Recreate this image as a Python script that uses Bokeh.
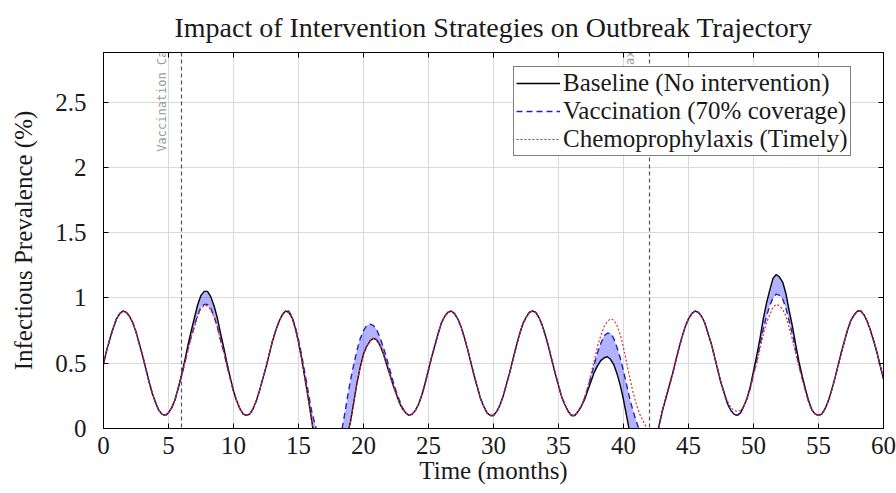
import numpy as np
from bokeh.plotting import figure
from bokeh.models import (Range1d, FixedTicker, LinearAxis, Span,
                          CustomJSTickFormatter)
from bokeh.core.properties import value
from bokeh.embed import file_html
from bokeh.resources import INLINE

# ---------------- data (one reading every 0.25 month) ----
months = np.arange(0, 60.001, 0.25)

baseline = [
    0.50, 0.60, 0.69, 0.77, 0.84, 0.88, 0.90, 0.89, 0.86, 0.81, 0.74, 0.65, 0.56, 0.46, 0.36, 0.27, 0.20, 0.14, 0.11, 0.10,
    0.12, 0.16, 0.22, 0.31, 0.41, 0.52, 0.64, 0.75, 0.85, 0.95, 1.02, 1.05, 1.05, 1.01, 0.94, 0.85, 0.73, 0.62, 0.50, 0.39,
    0.29, 0.21, 0.15, 0.11, 0.10, 0.11, 0.15, 0.21, 0.29, 0.38, 0.47, 0.57, 0.67, 0.75, 0.82, 0.87, 0.90, 0.89, 0.85, 0.77,
    0.66, 0.53, 0.38, 0.23, 0.07, -0.09, -0.25, -0.39, -0.50, -0.54, -0.55, -0.50, -0.40, -0.28, -0.15, -0.05, 0.05, 0.20, 0.35, 0.47,
    0.57, 0.63, 0.67, 0.69, 0.68, 0.64, 0.58, 0.50, 0.42, 0.34, 0.27, 0.20, 0.15, 0.12, 0.10, 0.11, 0.14, 0.19, 0.26, 0.35,
    0.45, 0.55, 0.64, 0.73, 0.81, 0.86, 0.89, 0.90, 0.88, 0.84, 0.78, 0.70, 0.61, 0.51, 0.41, 0.32, 0.23, 0.17, 0.12, 0.10,
    0.10, 0.13, 0.18, 0.25, 0.34, 0.43, 0.53, 0.63, 0.72, 0.80, 0.85, 0.89, 0.90, 0.89, 0.85, 0.79, 0.71, 0.62, 0.52, 0.42,
    0.33, 0.24, 0.18, 0.13, 0.10, 0.10, 0.13, 0.17, 0.22, 0.29, 0.36, 0.43, 0.48, 0.52, 0.54, 0.55, 0.53, 0.49, 0.42, 0.33,
    0.22, 0.09, -0.04, -0.17, -0.30, -0.42, -0.50, -0.52, -0.50, -0.32, -0.10, 0.03, 0.14, 0.23, 0.32, 0.41, 0.51, 0.61, 0.70, 0.78,
    0.84, 0.88, 0.90, 0.89, 0.86, 0.81, 0.73, 0.65, 0.55, 0.45, 0.35, 0.27, 0.19, 0.14, 0.11, 0.10, 0.12, 0.17, 0.23, 0.32,
    0.44, 0.56, 0.69, 0.84, 0.96, 1.06, 1.15, 1.18, 1.16, 1.12, 1.03, 0.90, 0.78, 0.64, 0.51, 0.40, 0.30, 0.21, 0.14, 0.11,
    0.10, 0.11, 0.15, 0.21, 0.29, 0.38, 0.48, 0.58, 0.67, 0.76, 0.83, 0.87, 0.90, 0.90, 0.87, 0.82, 0.75, 0.67, 0.58, 0.48,
    0.38,
]

vaccination = [
    0.50, 0.60, 0.69, 0.77, 0.84, 0.88, 0.90, 0.89, 0.86, 0.81, 0.74, 0.65, 0.56, 0.46, 0.36, 0.27, 0.20, 0.14, 0.11, 0.10,
    0.12, 0.16, 0.22, 0.31, 0.40, 0.50, 0.61, 0.70, 0.79, 0.87, 0.93, 0.95, 0.95, 0.92, 0.86, 0.78, 0.68, 0.59, 0.48, 0.38,
    0.28, 0.21, 0.15, 0.11, 0.10, 0.11, 0.15, 0.21, 0.29, 0.38, 0.47, 0.57, 0.67, 0.75, 0.82, 0.87, 0.90, 0.90, 0.86, 0.78,
    0.68, 0.56, 0.42, 0.28, 0.14, 0.04, -0.05, -0.18, -0.30, -0.35, -0.35, -0.30, -0.20, -0.06, 0.08, 0.23, 0.37, 0.49, 0.60, 0.69,
    0.75, 0.79, 0.80, 0.79, 0.76, 0.70, 0.63, 0.55, 0.46, 0.37, 0.29, 0.22, 0.16, 0.12, 0.10, 0.11, 0.14, 0.19, 0.26, 0.35,
    0.45, 0.55, 0.64, 0.73, 0.81, 0.86, 0.89, 0.90, 0.88, 0.84, 0.78, 0.70, 0.61, 0.51, 0.41, 0.32, 0.23, 0.17, 0.12, 0.10,
    0.10, 0.13, 0.18, 0.25, 0.34, 0.43, 0.53, 0.63, 0.72, 0.80, 0.85, 0.89, 0.90, 0.89, 0.85, 0.79, 0.71, 0.62, 0.52, 0.42,
    0.33, 0.24, 0.18, 0.13, 0.10, 0.10, 0.13, 0.17, 0.23, 0.31, 0.40, 0.49, 0.58, 0.65, 0.71, 0.73, 0.73, 0.69, 0.62, 0.54,
    0.44, 0.33, 0.22, 0.13, 0.05, -0.02, -0.10, -0.16, -0.20, -0.16, -0.08, 0.03, 0.14, 0.23, 0.32, 0.41, 0.51, 0.61, 0.70, 0.78,
    0.84, 0.88, 0.90, 0.89, 0.86, 0.81, 0.73, 0.65, 0.55, 0.45, 0.35, 0.27, 0.19, 0.14, 0.11, 0.10, 0.12, 0.17, 0.23, 0.31,
    0.42, 0.52, 0.64, 0.76, 0.86, 0.94, 1.00, 1.03, 1.02, 0.99, 0.92, 0.82, 0.72, 0.60, 0.48, 0.38, 0.29, 0.20, 0.14, 0.11,
    0.10, 0.11, 0.15, 0.21, 0.29, 0.38, 0.48, 0.58, 0.67, 0.76, 0.83, 0.87, 0.90, 0.90, 0.87, 0.82, 0.75, 0.67, 0.58, 0.48,
    0.38,
]

chemoprophylaxis = [
    0.50, 0.60, 0.69, 0.77, 0.84, 0.88, 0.90, 0.89, 0.86, 0.81, 0.74, 0.65, 0.56, 0.46, 0.36, 0.27, 0.20, 0.14, 0.11, 0.10,
    0.12, 0.16, 0.22, 0.31, 0.40, 0.50, 0.60, 0.70, 0.78, 0.86, 0.92, 0.94, 0.94, 0.91, 0.85, 0.78, 0.67, 0.59, 0.47, 0.38,
    0.28, 0.21, 0.15, 0.11, 0.10, 0.11, 0.15, 0.21, 0.29, 0.38, 0.47, 0.57, 0.67, 0.75, 0.82, 0.87, 0.90, 0.89, 0.85, 0.77,
    0.66, 0.53, 0.38, 0.23, 0.07, -0.09, -0.25, -0.39, -0.50, -0.54, -0.55, -0.50, -0.40, -0.28, -0.15, -0.05, 0.05, 0.20, 0.35, 0.47,
    0.57, 0.63, 0.67, 0.69, 0.68, 0.64, 0.58, 0.50, 0.42, 0.34, 0.27, 0.20, 0.15, 0.12, 0.10, 0.11, 0.14, 0.19, 0.26, 0.35,
    0.45, 0.55, 0.64, 0.73, 0.81, 0.86, 0.89, 0.90, 0.88, 0.84, 0.78, 0.70, 0.61, 0.51, 0.41, 0.32, 0.23, 0.17, 0.12, 0.10,
    0.10, 0.13, 0.18, 0.25, 0.34, 0.43, 0.53, 0.63, 0.72, 0.80, 0.85, 0.89, 0.90, 0.89, 0.85, 0.79, 0.71, 0.62, 0.52, 0.42,
    0.33, 0.24, 0.18, 0.13, 0.10, 0.10, 0.13, 0.17, 0.24, 0.32, 0.42, 0.52, 0.63, 0.71, 0.78, 0.82, 0.84, 0.83, 0.79, 0.72,
    0.62, 0.50, 0.38, 0.27, 0.18, 0.11, 0.06, 0.01, -0.04, -0.08, -0.10, 0.03, 0.14, 0.23, 0.32, 0.41, 0.51, 0.61, 0.70, 0.78,
    0.84, 0.88, 0.90, 0.89, 0.86, 0.81, 0.73, 0.65, 0.55, 0.45, 0.35, 0.27, 0.21, 0.16, 0.14, 0.13, 0.14, 0.17, 0.23, 0.30,
    0.41, 0.50, 0.61, 0.72, 0.81, 0.87, 0.93, 0.95, 0.94, 0.91, 0.86, 0.77, 0.68, 0.57, 0.47, 0.38, 0.28, 0.20, 0.14, 0.11,
    0.10, 0.11, 0.15, 0.21, 0.29, 0.38, 0.48, 0.58, 0.67, 0.76, 0.83, 0.87, 0.90, 0.90, 0.87, 0.82, 0.75, 0.67, 0.58, 0.48,
    0.38,
]

event_months = [6, 42]
event_labels = ["Vaccination Campaign", "Chemoprophylaxis Start"]
event_label_y = [2.12, 2.12]

x_ticks = [0, 5, 10, 15, 20, 25, 30, 35, 40, 45, 50, 55, 60]
y_ticks = [0, 0.5, 1, 1.5, 2, 2.5]

title_text = "Impact of Intervention Strategies on Outbreak Trajectory"
x_label = "Time (months)"
y_label = "Infectious Prevalence (%)"
series_names = ["Baseline (No intervention)",
                "Vaccination (70% coverage)",
                "Chemoprophylaxis (Timely)"]

# ---------------- figure ----------------
SERIF = "Liberation Serif"

p = figure(width=896, height=493,
           x_range=Range1d(0, 60), y_range=Range1d(0, 2.88),
           output_backend="svg", toolbar_location=None,
           min_border_left=103, min_border_right=13,
           min_border_top=50, min_border_bottom=65,
           title=title_text)

p.title.text_font = SERIF
p.title.text_font_size = "28px"
p.title.text_font_style = "normal"
p.title.text_color = "#1a1a1a"
p.title.align = "center"
p.title.standoff = 19

p.outline_line_color = "black"
p.outline_line_width = 1
p.outline_line_alpha = 1

fmt = CustomJSTickFormatter(code="return String(Math.round(tick*10)/10);")

for ax, ticks in ((p.xaxis[0], x_ticks), (p.yaxis[0], y_ticks)):
    ax.ticker = FixedTicker(ticks=ticks)
    ax.formatter = fmt
    ax.major_label_text_font = SERIF
    ax.major_label_text_font_size = "25px"
    ax.major_label_text_color = "#1a1a1a"
    ax.axis_label_text_font = SERIF
    ax.axis_label_text_font_size = "25px"
    ax.axis_label_text_font_style = "normal"
    ax.axis_label_text_color = "#1a1a1a"
    ax.major_tick_in = 5
    ax.major_tick_out = 0
    ax.minor_tick_in = 0
    ax.minor_tick_out = 0
    ax.axis_line_color = "black"
    ax.major_tick_line_color = "black"

p.xaxis[0].axis_label = x_label
p.yaxis[0].axis_label = y_label
p.xaxis[0].major_label_standoff = 8
p.xaxis[0].axis_label_standoff = 0
p.yaxis[0].major_label_standoff = 17
p.yaxis[0].axis_label_standoff = 15

empty_fmt = CustomJSTickFormatter(code="return '';")
for loc, ticks in (("right", y_ticks), ("above", x_ticks)):
    extra = LinearAxis(ticker=FixedTicker(ticks=ticks), formatter=empty_fmt,
                       major_label_text_font_size="0px", major_label_standoff=0,
                       major_tick_in=5, major_tick_out=0,
                       minor_tick_in=0, minor_tick_out=0,
                       axis_line_color="black", major_tick_line_color="black")
    p.add_layout(extra, loc)

p.xgrid.ticker = FixedTicker(ticks=x_ticks)
p.ygrid.ticker = FixedTicker(ticks=y_ticks)
for g in (p.xgrid[0], p.ygrid[0]):
    g.grid_line_color = "#d9d9d9"
    g.grid_line_width = 1

# event markers
for t in event_months:
    p.add_layout(Span(location=t, dimension="height", line_color="#555555",
                      line_dash="4 3", line_width=1.2, level="underlay"))

p.text(x=event_months, y=event_label_y, text=event_labels, angle=np.pi / 2,
       text_font=value("DejaVu Sans Mono"), text_font_size="12px",
       text_color="#9a9a9a", text_align="left", text_baseline="middle",
       x_offset=-20)

# shaded difference
p.varea(x=months, y1=baseline, y2=vaccination, fill_color="blue", fill_alpha=0.3)

p.line(months, baseline, line_color="black", line_width=1.4,
       legend_label=series_names[0])
p.line(months, vaccination, line_color="#2323b5", line_width=1.4,
       line_dash="6 4", legend_label=series_names[1])
p.line(months, chemoprophylaxis, line_color="#e8262b", line_width=1.2,
       line_dash="2 2", legend_label=series_names[2])

lg = p.legend[0]
lg.location = (410, 272)
lg.label_text_font = SERIF
lg.label_text_font_size = "25px"
lg.label_text_color = "#1a1a1a"
lg.glyph_width = 44
lg.glyph_height = 20
lg.label_standoff = 3
lg.label_height = 28
lg.padding = 2
lg.spacing = 0
lg.margin = 0
lg.border_line_color = "black"
lg.border_line_width = 1.2
lg.background_fill_alpha = 1

open("out.html", "w").write(file_html(p, INLINE))
